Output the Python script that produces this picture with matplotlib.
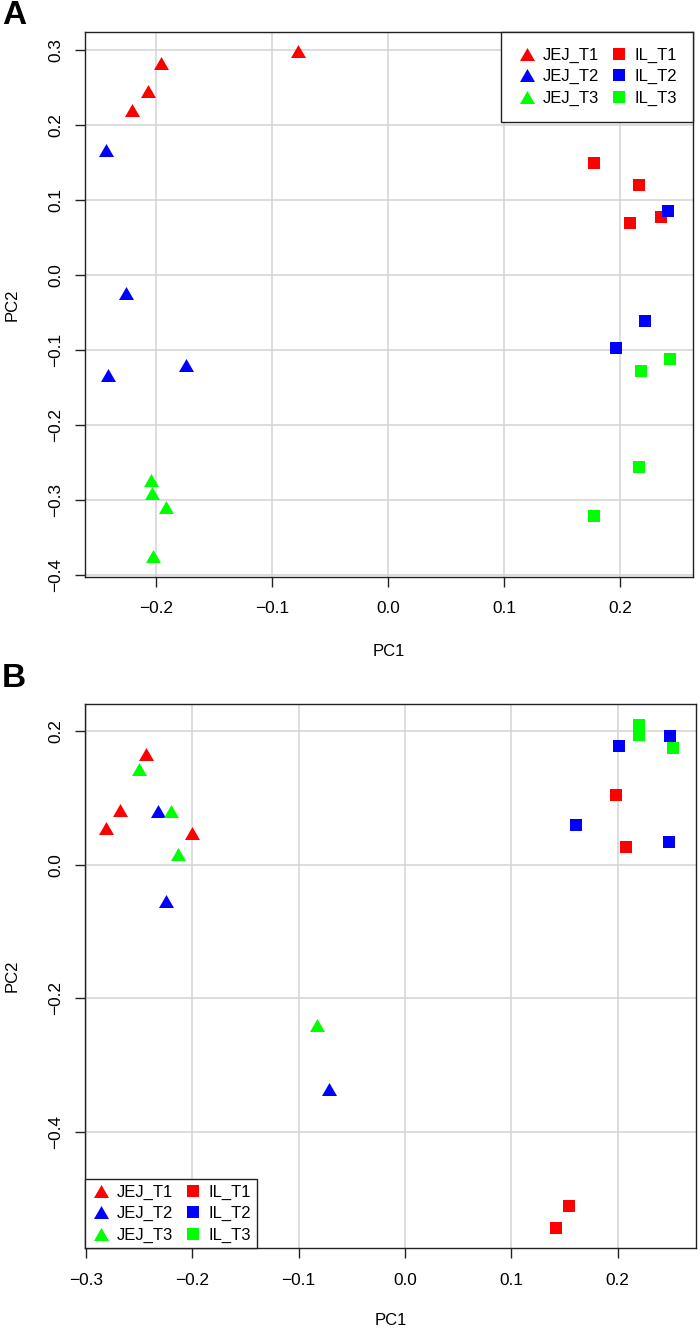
import matplotlib
matplotlib.use("Agg")
import matplotlib.pyplot as plt
from matplotlib.path import Path
from matplotlib.lines import Line2D
from matplotlib.ticker import FixedLocator, FuncFormatter

plt.rcParams['font.family'] = ['Liberation Sans', 'DejaVu Sans']

# ---------------- data ----------------
groups = ["JEJ_T1", "JEJ_T2", "JEJ_T3", "IL_T1", "IL_T2", "IL_T3"]
group_colors = ["#FF0000", "#0000FF", "#00FF00", "#FF0000", "#0000FF", "#00FF00"]
group_shapes = ["tri", "tri", "tri", "sq", "sq", "sq"]

# Panel A
A_pc1 = {
    "JEJ_T1": [-0.078, -0.196, -0.207, -0.221],
    "JEJ_T2": [-0.243, -0.226, -0.242, -0.174],
    "JEJ_T3": [-0.205, -0.204, -0.192, -0.203],
    "IL_T1": [0.177, 0.216, 0.208, 0.235],
    "IL_T2": [0.241, 0.221, 0.196],
    "IL_T3": [0.243, 0.218, 0.216, 0.177],
}
A_pc2 = {
    "JEJ_T1": [0.299, 0.283, 0.246, 0.220],
    "JEJ_T2": [0.167, -0.024, -0.133, -0.120],
    "JEJ_T3": [-0.273, -0.290, -0.309, -0.374],
    "IL_T1": [0.150, 0.120, 0.070, 0.078],
    "IL_T2": [0.086, -0.061, -0.097],
    "IL_T3": [-0.111, -0.128, -0.255, -0.321],
}
A_xticks = [-0.2, -0.1, 0.0, 0.1, 0.2]
A_yticks = [-0.4, -0.3, -0.2, -0.1, 0.0, 0.1, 0.2, 0.3]

# Panel B
B_pc1 = {
    "JEJ_T1": [-0.244, -0.268, -0.281, -0.200],
    "JEJ_T2": [-0.232, -0.225, -0.071],
    "JEJ_T3": [-0.250, -0.220, -0.213, -0.083],
    "IL_T1": [0.198, 0.208, 0.154, 0.142],
    "IL_T2": [0.249, 0.201, 0.161, 0.248],
    "IL_T3": [0.220, 0.220, 0.252],
}
B_pc2 = {
    "JEJ_T1": [0.166, 0.082, 0.055, 0.047],
    "JEJ_T2": [0.081, -0.054, -0.336],
    "JEJ_T3": [0.143, 0.081, 0.016, -0.240],
    "IL_T1": [0.104, 0.026, -0.510, -0.544],
    "IL_T2": [0.192, 0.177, 0.060, 0.034],
    "IL_T3": [0.209, 0.194, 0.174],
}
B_xticks = [-0.3, -0.2, -0.1, 0.0, 0.1, 0.2]
B_yticks = [-0.4, -0.2, 0.0, 0.2]

# ---------------- styling ----------------
W, H = 700, 1332
fig = plt.figure(figsize=(W / 100, H / 100), dpi=100)

tri = Path([(-1, -0.866), (1, -0.866), (0, 0.866), (-1, -0.866)],
           [Path.MOVETO, Path.LINETO, Path.LINETO, Path.CLOSEPOLY])
MARK = {"tri": (tri, 10.8), "sq": ("s", 8.6)}

def fmt(v, pos=None):
    s = f"{v:.1f}"
    if s == "-0.0":
        s = "0.0"
    return s.replace("-", "\u2212")

def ax_from_px(l, t, r, b):
    return fig.add_axes([l / W, 1 - b / H, (r - l) / W, (b - t) / H])

def panel(ax, pc1, pc2, xlim, ylim, xticks, yticks, legend_loc, bpad):
    ax.set_xlim(*xlim)
    ax.set_ylim(*ylim)
    ax.xaxis.set_major_locator(FixedLocator(xticks))
    ax.yaxis.set_major_locator(FixedLocator(yticks))
    ax.xaxis.set_major_formatter(FuncFormatter(fmt))
    ax.yaxis.set_major_formatter(FuncFormatter(fmt))
    ax.grid(True, color="#d3d3d3", linewidth=1.1, zorder=0)
    ax.set_axisbelow(True)
    for sp in ax.spines.values():
        sp.set_linewidth(1.0)
        sp.set_color("#222222")
    ax.tick_params(axis="both", direction="out", length=7.5, width=1.0,
                   color="#222222", labelsize=12.4, pad=10)
    ax.tick_params(axis="y", labelrotation=90, pad=8)
    for lab in ax.get_yticklabels():
        lab.set_va("center")
    handles = []
    for g, c, s in zip(groups, group_colors, group_shapes):
        m, ms = MARK[s]
        ax.plot(pc1[g], pc2[g], linestyle="none", marker=m, markersize=ms,
                color=c, markeredgewidth=0, zorder=3)
        handles.append(Line2D([], [], linestyle="none", marker=m, markersize=ms,
                              color=c, markeredgewidth=0))
    leg = ax.legend(handles, groups, loc=legend_loc, ncol=2, fontsize=12,
                    frameon=True, fancybox=False, shadow=False, framealpha=1,
                    borderaxespad=0, borderpad=bpad, handlelength=1.28,
                    handletextpad=0.32, columnspacing=0.5, labelspacing=0.38)
    leg.get_frame().set_edgecolor("#222222")
    leg.get_frame().set_linewidth(1.0)
    leg.set_zorder(5)
    ax.set_xlabel("PC1", fontsize=12)
    ax.set_ylabel("PC2", fontsize=12)
    return leg

# Panel A
axA = ax_from_px(85, 32, 693, 577)
panel(axA, A_pc1, A_pc2, (-0.2615, 0.2627), (-0.4023, 0.3244),
      A_xticks, A_yticks, "upper right", 0.95)
axA.xaxis.set_label_coords(0.5, -(652 - 577) / (577 - 32))
axA.xaxis.label.set_va("center")
axA.yaxis.set_label_coords(-(85 - 12) / (693 - 85), 0.5)
axA.yaxis.label.set_va("center")
fig.text(2 / W, 1 - 16 / H, "A", fontsize=24, fontweight="bold", va="center", ha="left")

# Panel B
axB = ax_from_px(85, 704, 696, 1248.3)
panel(axB, B_pc1, B_pc2, (-0.3009, 0.2737), (-0.5738, 0.2404),
      B_xticks, B_yticks, "lower left", 0.33)
axB.xaxis.set_label_coords(0.5, -(1320.7 - 1248.3) / (1248.3 - 704))
axB.xaxis.label.set_va("center")
axB.yaxis.set_label_coords(-(85 - 12) / (696 - 85), 0.5)
axB.yaxis.label.set_va("center")
fig.text(2 / W, 1 - 678.5 / H, "B", fontsize=24, fontweight="bold", va="center", ha="left")

fig.savefig("out.png", dpi=100)
